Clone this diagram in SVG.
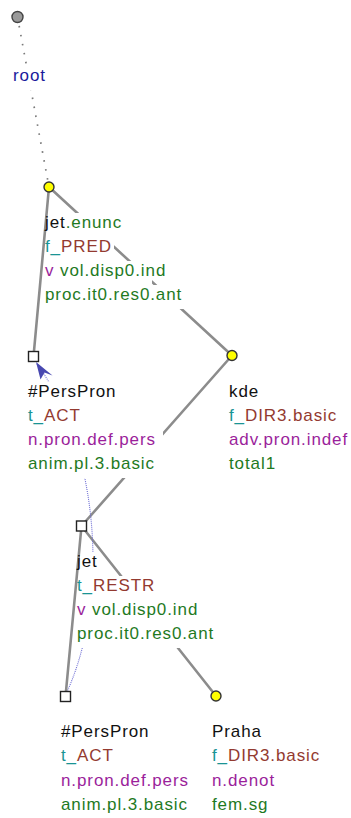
<svg xmlns="http://www.w3.org/2000/svg" width="351" height="818" viewBox="0 0 351 818">
<style>
text{font-family:"Liberation Sans",Arial,sans-serif;font-size:17px;letter-spacing:0.9px}
.k{fill:#111}.g{fill:#1f7a1f}.c{fill:#1a9494}.r{fill:#933a30}.p{fill:#9b1f9b}.b{fill:#1a1a9c}
.edge{stroke:#8c8c8c;stroke-width:2.6;fill:none;stroke-linecap:round}
.dot{stroke:#7a7a7a;stroke-width:1.7;fill:none;stroke-dasharray:1.6 7.5}
.coref{stroke:#6e6ed4;stroke-width:1.1;fill:none;stroke-dasharray:1 1}
.sq{fill:#fff;stroke:#222;stroke-width:1.4}
.yc{fill:#ffff00;stroke:#333;stroke-width:1.4}
</style>
<defs>
<mask id="lbl" maskUnits="userSpaceOnUse" x="0" y="0" width="351" height="818">
<rect x="0" y="0" width="351" height="818" fill="#fff"/>
<g fill="#000">
<rect x="13" y="66" width="33" height="24"/>
<rect x="45" y="213" width="79" height="24"/>
<rect x="45" y="237" width="69" height="24"/>
<rect x="45" y="261" width="107" height="24"/>
<rect x="45" y="285" width="139" height="24"/>
<rect x="28" y="382" width="92" height="24"/>
<rect x="28" y="406" width="55" height="24"/>
<rect x="28" y="430" width="135" height="24"/>
<rect x="28" y="454" width="136" height="24"/>
<rect x="77" y="552" width="22" height="24"/>
<rect x="77" y="576" width="83" height="24"/>
<rect x="77" y="600" width="107" height="24"/>
<rect x="77" y="624" width="139" height="24"/>
</g>
</mask>
</defs>
<g id="connectors">
<g mask="url(#lbl)">
<line class="dot" x1="17.5" y1="17" x2="49" y2="187"/>
<line class="edge" x1="49" y1="187" x2="232" y2="355.5"/>
<line class="edge" x1="232" y1="355.5" x2="81.5" y2="526"/>
<line class="edge" x1="81.5" y1="526" x2="216" y2="696"/>
<path class="coref" d="M66,694 C110,600 100,450 37,364"/>
</g>
<line class="edge" x1="49" y1="187" x2="33.5" y2="356.5"/>
<line class="edge" x1="81.5" y1="526" x2="65.5" y2="696.5"/>
</g>
<g id="n-root">
<circle cx="17.5" cy="17" r="5.5" fill="#9a9a9a" stroke="#444" stroke-width="1.4"/>
<text x="13" y="81" class="b">root</text>
</g>
<g id="n-jet-enunc">
<circle class="yc" cx="49" cy="187" r="5"/>
<text x="45" y="228"><tspan class="k">jet</tspan><tspan class="g">.enunc</tspan></text>
<text x="45" y="252"><tspan class="c">f_</tspan><tspan class="r">PRED</tspan></text>
<text x="45" y="276"><tspan class="p">v </tspan><tspan class="g">vol.disp0.ind</tspan></text>
<text x="45" y="300" class="g">proc.it0.res0.ant</text>
</g>
<g id="n-perspron1">
<rect class="sq" x="28.5" y="351.5" width="10" height="10"/>
<polygon points="36,362 52.5,375.5 44.5,372.5 40.5,379.5" fill="#4848b0"/>
<text x="28" y="397" class="k">#PersPron</text>
<text x="28" y="421"><tspan class="c">t_</tspan><tspan class="r">ACT</tspan></text>
<text x="28" y="445" class="p">n.pron.def.pers</text>
<text x="28" y="469" class="g">anim.pl.3.basic</text>
</g>
<g id="n-kde">
<circle class="yc" cx="232" cy="355.5" r="5"/>
<text x="229" y="397" class="k">kde</text>
<text x="229" y="421"><tspan class="c">f_</tspan><tspan class="r">DIR3.basic</tspan></text>
<text x="229" y="445" class="p">adv.pron.indef</text>
<text x="229" y="469" class="g">total1</text>
</g>
<g id="n-jet">
<rect class="sq" x="76.5" y="521" width="10" height="10"/>
<text x="77" y="567" class="k">jet</text>
<text x="77" y="591"><tspan class="c">t_</tspan><tspan class="r">RESTR</tspan></text>
<text x="77" y="615"><tspan class="p">v </tspan><tspan class="g">vol.disp0.ind</tspan></text>
<text x="77" y="639" class="g">proc.it0.res0.ant</text>
</g>
<g id="n-perspron2">
<rect class="sq" x="60.5" y="691.5" width="10" height="10"/>
<text x="61" y="737" class="k">#PersPron</text>
<text x="61" y="761"><tspan class="c">t_</tspan><tspan class="r">ACT</tspan></text>
<text x="61" y="786" class="p">n.pron.def.pers</text>
<text x="61" y="810" class="g">anim.pl.3.basic</text>
</g>
<g id="n-praha">
<circle class="yc" cx="216" cy="696" r="5"/>
<text x="212" y="737" class="k">Praha</text>
<text x="212" y="761"><tspan class="c">f_</tspan><tspan class="r">DIR3.basic</tspan></text>
<text x="212" y="786" class="p">n.denot</text>
<text x="212" y="810" class="g">fem.sg</text>
</g>
</svg>
